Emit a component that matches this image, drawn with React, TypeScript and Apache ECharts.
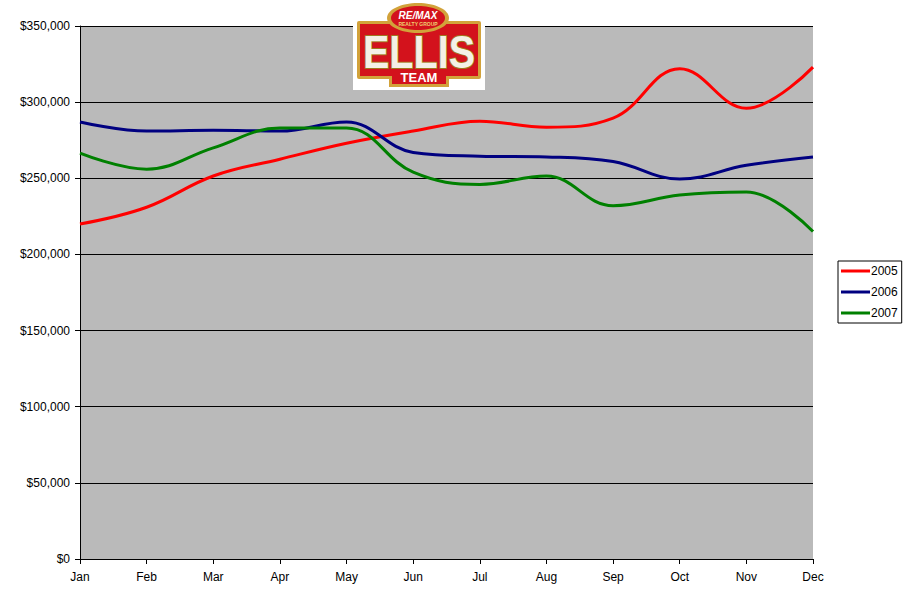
import React, { useEffect, useRef } from "react";
import * as echarts from "echarts";

const months = ["Jan", "Feb", "Mar", "Apr", "May", "Jun", "Jul", "Aug", "Sep", "Oct", "Nov", "Dec"];
const s2005 = [220000, 231000, 251500, 262500, 273000, 281000, 287500, 283500, 289500, 322000, 296000, 323000];
const s2006 = [287000, 281000, 281500, 281000, 287000, 267000, 264500, 264000, 261000, 249500, 258500, 264000];
const s2007 = [266500, 256000, 270000, 283000, 283000, 254000, 246000, 251500, 232000, 239000, 241000, 215000];
const seriesNames = ["2005", "2006", "2007"];
const seriesColors = ["#ff0000", "#000080", "#008000"];

export default function App() {
  const ref = useRef<HTMLDivElement>(null);
  useEffect(() => {
    if (!ref.current) return;
    const chart = echarts.init(ref.current, null, { renderer: "svg" });
    const font = "Liberation Sans";
    const data = [s2005, s2006, s2007];
    chart.setOption({
      animation: false,
      backgroundColor: "#ffffff",
      textStyle: { fontFamily: font },
      grid: {
        left: 80,
        right: 101,
        top: 26,
        bottom: 46,
        show: true,
        backgroundColor: "#bababa",
        borderWidth: 0,
      },
      legend: {
        orient: "vertical",
        left: 838,
        top: 261,
        padding: [4, 4, 4, 3],
        itemGap: 9,
        itemWidth: 29,
        itemHeight: 3,
        icon: "rect",
        borderColor: "#000",
        borderWidth: 1,
        textStyle: { fontFamily: font, fontSize: 12, color: "#000", padding: [0, 0, 0, -4] },
        data: seriesNames,
      },
      xAxis: {
        type: "category",
        data: months,
        boundaryGap: false,
        axisLine: { lineStyle: { color: "#000", width: 1 } },
        axisTick: { show: true, length: 5, lineStyle: { color: "#000" } },
        axisLabel: { color: "#000", fontSize: 12, fontFamily: font, margin: 12 },
        splitLine: { show: false },
      },
      yAxis: {
        type: "value",
        min: 0,
        max: 350000,
        interval: 50000,
        axisLine: { show: true, lineStyle: { color: "#000", width: 1 } },
        axisTick: { show: true, length: 5, lineStyle: { color: "#000" } },
        axisLabel: {
          color: "#000",
          fontSize: 12,
          fontFamily: font,
          margin: 10,
          formatter: (v: number) => "$" + v.toLocaleString("en-US"),
        },
        splitLine: { show: true, lineStyle: { color: "#000", width: 1 } },
      },
      series: seriesNames.map((n, i) => ({
        name: n,
        type: "line",
        data: data[i],
        smooth: 0.4,
        symbol: "none",
        lineStyle: { color: seriesColors[i], width: 3 },
        itemStyle: { color: seriesColors[i] },
      })),
      graphic: [
        { type: "rect", shape: { x: 353, y: 0, width: 132, height: 90 }, style: { fill: "#ffffff" }, z: 10 },
        { type: "rect", shape: { x: 357, y: 21, width: 124, height: 58, r: 2 }, style: { fill: "#d2a23a" }, z: 11 },
        { type: "rect", shape: { x: 360, y: 24, width: 118, height: 52 }, style: { fill: "#d3121c" }, z: 12 },
        { type: "rect", shape: { x: 389, y: 66, width: 60, height: 21 }, style: { fill: "#d2a23a" }, z: 11 },
        { type: "rect", shape: { x: 392, y: 66, width: 54, height: 18 }, style: { fill: "#d3121c" }, z: 12 },
        { type: "ellipse", shape: { cx: 418, cy: 18, rx: 31, ry: 15 }, style: { fill: "#d2a23a" }, z: 13 },
        { type: "ellipse", shape: { cx: 418, cy: 18, rx: 27, ry: 12 }, style: { fill: "#d3121c" }, z: 14 },
        {
          type: "text",
          x: 418,
          y: 15,
          z: 15,
          style: { text: "RE/MAX", fill: "#ffffff", font: 'italic bold 10px "Liberation Sans"', align: "center", verticalAlign: "middle" },
        },
        {
          type: "text",
          x: 418,
          y: 24,
          z: 15,
          style: { text: "REALTY GROUP", fill: "#f0d070", font: 'bold 5px "Liberation Sans"', align: "center", verticalAlign: "middle" },
        },
        {
          type: "text",
          x: 419,
          y: 52,
          scaleX: 0.86,
          z: 15,
          style: {
            text: "ELLIS",
            fill: "#f4f0e6",
            stroke: "#a07820",
            lineWidth: 2,
            font: 'bold 46px "Liberation Sans"',
            align: "center",
            verticalAlign: "middle",
          },
        },
        {
          type: "text",
          x: 419,
          y: 77,
          z: 15,
          style: { text: "TEAM", fill: "#ffffff", font: 'bold 13px "Liberation Sans"', align: "center", verticalAlign: "middle" },
        },
      ],
    });
    return () => chart.dispose();
  }, []);
  return <div ref={ref} style={{ position: "fixed", left: 0, top: 0, width: 914, height: 605 }} />;
}
